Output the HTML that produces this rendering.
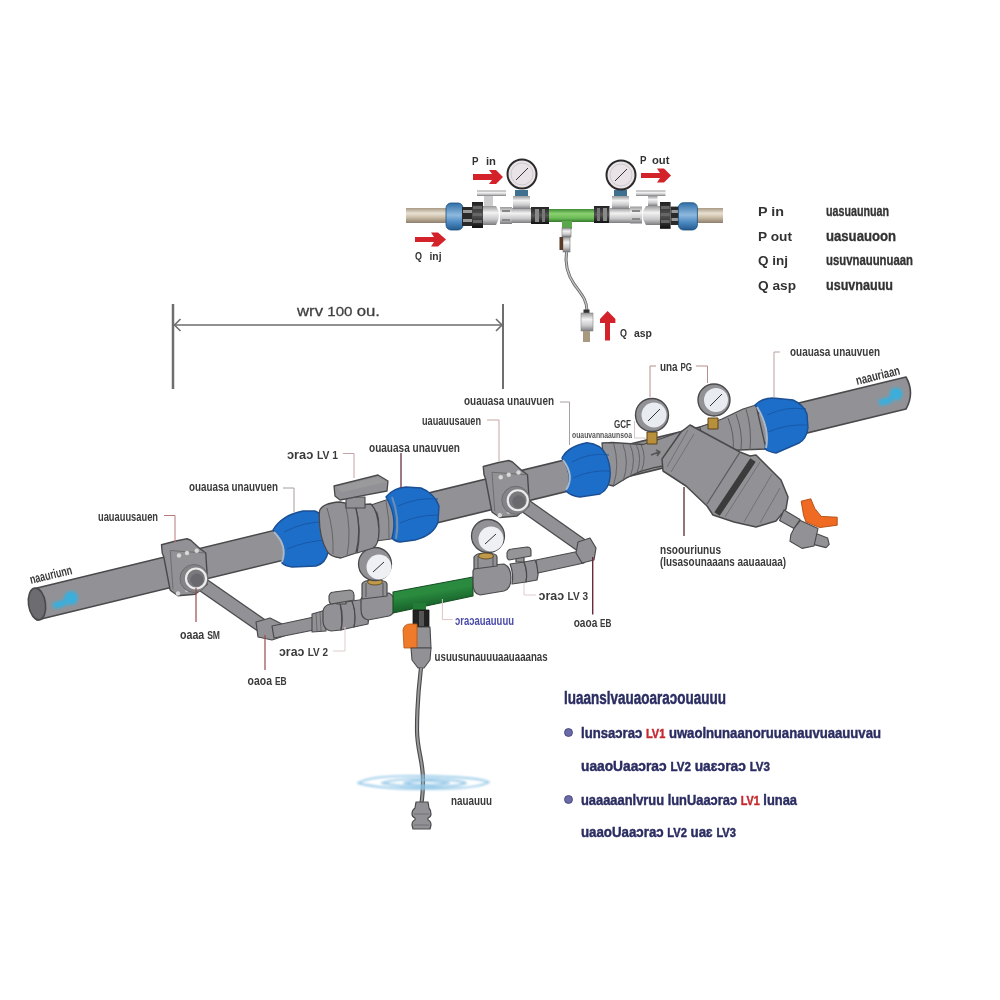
<!DOCTYPE html>
<html><head><meta charset="utf-8">
<style>
html,body{margin:0;padding:0;background:#fff;width:1000px;height:1000px;overflow:hidden}
svg{display:block}
text{font-family:"Liberation Sans",sans-serif}
</style></head>
<body>
<svg width="1000" height="1000" viewBox="0 0 1000 1000">
<defs>
  <linearGradient id="beige" x1="0" y1="0" x2="0" y2="1">
    <stop offset="0" stop-color="#a89a85"/><stop offset="0.35" stop-color="#e8e0d2"/><stop offset="0.6" stop-color="#cfc2ac"/><stop offset="1" stop-color="#8d7f6b"/>
  </linearGradient>
  <linearGradient id="silver" x1="0" y1="0" x2="0" y2="1">
    <stop offset="0" stop-color="#9a9a9c"/><stop offset="0.35" stop-color="#f2f2f2"/><stop offset="0.7" stop-color="#c8c8ca"/><stop offset="1" stop-color="#7c7c80"/>
  </linearGradient>
  <linearGradient id="blueC" x1="0" y1="0" x2="0" y2="1">
    <stop offset="0" stop-color="#2f6fa8"/><stop offset="0.45" stop-color="#8fb9de"/><stop offset="0.7" stop-color="#4f8cc4"/><stop offset="1" stop-color="#235b8e"/>
  </linearGradient>
  <linearGradient id="greenT" x1="0" y1="0" x2="0" y2="1">
    <stop offset="0" stop-color="#3f8a35"/><stop offset="0.35" stop-color="#8ad070"/><stop offset="0.7" stop-color="#6cbc58"/><stop offset="1" stop-color="#357a2c"/>
  </linearGradient>
  <linearGradient id="blackN" x1="0" y1="0" x2="0" y2="1">
    <stop offset="0" stop-color="#222"/><stop offset="0.5" stop-color="#555"/><stop offset="1" stop-color="#111"/>
  </linearGradient>
  <filter id="blur1" x="-30%" y="-30%" width="160%" height="160%"><feGaussianBlur stdDeviation="1.6"/></filter>
  <filter id="blur07" x="-10%" y="-50%" width="120%" height="200%"><feGaussianBlur stdDeviation="0.8"/></filter>
  <linearGradient id="greenB" gradientUnits="userSpaceOnUse" x1="433" y1="582" x2="437" y2="606">
    <stop offset="0" stop-color="#2c8c40"/><stop offset="0.4" stop-color="#2a8a3e"/><stop offset="1" stop-color="#17602a"/>
  </linearGradient>
  <filter id="soft" x="0" y="0" width="1000" height="1000" filterUnits="userSpaceOnUse"><feGaussianBlur stdDeviation="0.5"/></filter>
</defs>
<rect width="1000" height="1000" fill="#fff"/>
<g filter="url(#soft)">

<!-- ============ TOP ASSEMBLY ============ -->
<g id="top">
  <!-- left beige pipe -->
  <rect x="406" y="208" width="42" height="15" fill="url(#beige)"/>
  <!-- right beige pipe -->
  <rect x="695" y="208" width="28" height="15" fill="url(#beige)"/>
  <!-- left blue coupling -->
  <rect x="446" y="203" width="17" height="27" rx="5" fill="url(#blueC)" stroke="#1d4f7e" stroke-width="0.8"/>
  <rect x="462" y="207" width="11" height="19" fill="#2a2a2a"/>
  <rect x="463" y="210" width="9" height="3" fill="#999"/><rect x="463" y="219" width="9" height="3" fill="#999"/>
  <!-- left black nut -->
  <rect x="472" y="202" width="11" height="26" fill="url(#blackN)"/>
  <rect x="473" y="206" width="9" height="3" fill="#666"/><rect x="473" y="213" width="9" height="3" fill="#666"/><rect x="473" y="220" width="9" height="3" fill="#666"/>
  <!-- valve ball body -->
  <path d="M483,206 L496,206 Q502,215 496,225 L483,225 Z" fill="url(#silver)"/>
  <rect x="500" y="207" width="12" height="17" fill="url(#silver)"/>
  <rect x="502" y="210" width="8" height="2" fill="#888"/><rect x="502" y="219" width="8" height="2" fill="#888"/>
  <!-- valve handle -->
  <rect x="484" y="196" width="9" height="10" fill="#ccc"/>
  <rect x="477" y="190.5" width="29" height="5.5" fill="url(#silver)"/>
  <!-- left silver tee -->
  <rect x="512" y="208" width="19" height="15" fill="url(#silver)"/>
  <rect x="513" y="196" width="17" height="13" fill="url(#silver)"/>
  <rect x="515" y="190" width="13" height="6" fill="#3f6f8f"/>
  <!-- left gauge -->
  <circle cx="522" cy="174" r="14.5" fill="#e9e2e6" stroke="#2b2b2b" stroke-width="2"/>
  <circle cx="522" cy="174" r="11" fill="none" stroke="#bbb" stroke-width="0.6"/>
  <line x1="516" y1="180" x2="528" y2="168" stroke="#333" stroke-width="1"/>
  <!-- black collar left of green -->
  <rect x="531" y="207" width="18" height="17" fill="url(#blackN)"/>
  <rect x="535" y="209" width="4" height="13" fill="#8a8a8a"/><rect x="542" y="209" width="3" height="13" fill="#777"/>
  <!-- green tee -->
  <rect x="549" y="209" width="46" height="13" fill="url(#greenT)"/>
  <rect x="562" y="221" width="10" height="8" fill="#5aa84a"/>
  <!-- right collar -->
  <rect x="594" y="206" width="15.5" height="17" fill="url(#blackN)"/>
  <rect x="597" y="208" width="3" height="13" fill="#777"/><rect x="603" y="208" width="4" height="13" fill="#8a8a8a"/>
  <!-- right silver tee -->
  <rect x="610" y="208" width="20" height="15" fill="url(#silver)"/>
  <rect x="612" y="196" width="17" height="13" fill="url(#silver)"/>
  <rect x="614" y="190" width="13" height="6" fill="#3f6f8f"/>
  <circle cx="621" cy="175" r="14.5" fill="#e9e2e6" stroke="#2b2b2b" stroke-width="2"/>
  <circle cx="621" cy="175" r="11" fill="none" stroke="#bbb" stroke-width="0.6"/>
  <line x1="615" y1="181" x2="627" y2="169" stroke="#333" stroke-width="1"/>
  <!-- right valve -->
  <rect x="630" y="206.5" width="12" height="17" fill="url(#silver)"/>
  <rect x="632" y="210" width="8" height="2" fill="#888"/><rect x="632" y="218" width="8" height="2" fill="#888"/>
  <path d="M661,206 L646,206 Q639,215 646,225 L661,225 Z" fill="url(#silver)"/>
  <rect x="648" y="196" width="9.5" height="10" fill="url(#silver)"/>
  <rect x="636" y="190.5" width="29.5" height="5.5" fill="url(#silver)"/>
  <rect x="660" y="202" width="10.6" height="26.8" fill="url(#blackN)"/>
  <rect x="661" y="206" width="8.6" height="3" fill="#666"/><rect x="661" y="213" width="8.6" height="3" fill="#666"/><rect x="661" y="220" width="8.6" height="3" fill="#666"/>
  <rect x="670.6" y="206.6" width="9" height="18.4" fill="#2a2a2a"/>
  <rect x="671.5" y="210" width="7" height="3" fill="#999"/><rect x="671.5" y="218" width="7" height="3" fill="#999"/>
  <rect x="678.4" y="202.7" width="19" height="27.3" rx="5" fill="url(#blueC)" stroke="#1d4f7e" stroke-width="0.8"/>
  <!-- hose from tee -->
  <rect x="562" y="228" width="9" height="9" fill="url(#silver)" stroke="#777" stroke-width="0.6"/>
  <rect x="563" y="237" width="7" height="15" fill="url(#silver)" stroke="#777" stroke-width="0.6"/>
  <rect x="559.5" y="237" width="3.5" height="13" fill="#5a3a28"/>
  <path d="M566.5,252 C565,262 566,272 574,284 C582,295 587,300 587,311" fill="none" stroke="#666" stroke-width="3"/>
  <path d="M566.5,252 C565,262 566,272 574,284 C582,295 587,300 587,311" fill="none" stroke="#c4c4c4" stroke-width="1.3"/>
  <rect x="583.5" y="309.5" width="6" height="4" fill="#333"/>
  <rect x="581" y="313" width="12" height="18" fill="url(#silver)" stroke="#888" stroke-width="0.6"/>
  <rect x="583" y="331" width="7" height="11" fill="#a89a80"/>
  <!-- red arrows -->
  <g fill="#d3222a">
    <path d="M473,174 L492,174 L489,170 L496,170 L503,177 L496,184 L489,184 L492,180 L473,180 Z"/>
    <path d="M415,237 L434,237 L431,232.5 L438,232.5 L446,239.5 L438,246.5 L431,246.5 L434,242 L415,242 Z"/>
    <path d="M641,173 L660,173 L657,168.5 L664,168.5 L671,175.5 L664,182.5 L657,182.5 L660,178 L641,178 Z"/>
    <path d="M605,340.5 L605,323 L600,323 L600,319 L607.6,311 L615.4,319 L615.4,323 L610,323 L610,340.5 Z"/>
  </g>
  <g font-weight="bold" font-size="11.5" fill="#333">
    <text x="472" y="165" textLength="6.5" lengthAdjust="spacingAndGlyphs">P</text><text x="486" y="165" textLength="10" lengthAdjust="spacingAndGlyphs">in</text>
    <text x="640" y="164" textLength="6.5" lengthAdjust="spacingAndGlyphs">P</text><text x="652" y="164" textLength="17.5" lengthAdjust="spacingAndGlyphs">out</text>
    <text x="415" y="260" textLength="7" lengthAdjust="spacingAndGlyphs">Q</text><text x="429.5" y="260" textLength="12" lengthAdjust="spacingAndGlyphs">inj</text>
    <text x="620" y="337" textLength="7" lengthAdjust="spacingAndGlyphs">Q</text><text x="634" y="337" textLength="18" lengthAdjust="spacingAndGlyphs">asp</text>
  </g>
</g>


<!-- ============ MAIN PIPE ============ -->
<g id="main" stroke-linejoin="round">
  <!-- main pipe body -->
  <path d="M37,588 L906,377 Q915,393 906,409 L37,620 Z" fill="#929296" stroke="#4a4a4c" stroke-width="1.6"/>
  <ellipse cx="37" cy="604" rx="8.5" ry="16" transform="rotate(-8 37 604)" fill="#6d6d71" stroke="#4a4a4c" stroke-width="1.6"/>
  <!-- light blue arrows -->
  <g filter="url(#blur1)" fill="#3aaedc"><path d="M52,603 L66,599 L66,606 L54,609 Z"/><circle cx="71" cy="598" r="7"/></g>
  <g filter="url(#blur1)" fill="#3aaedc"><path d="M878,400 L892,396 L892,403 L880,406 Z"/><circle cx="896" cy="394" r="6.5"/></g>

</g>

<!-- ============ BYPASS ============ -->
<g id="bypass" stroke-linejoin="round">
  <!-- left diagonal pipe -->
  <path d="M196,580 L268,630" stroke="#4a4a4c" stroke-width="14.5" stroke-linecap="butt" fill="none"/>
  <path d="M196,580 L268,630" stroke="#929296" stroke-width="12" stroke-linecap="butt" fill="none"/>
  <!-- elbow left -->
  <path d="M256,622 L270,618 L282,624 L284,636 L272,640 L258,637 Z" fill="#929296" stroke="#4a4a4c" stroke-width="1.2"/>
  <!-- pipe elbow -> LV2 -->
  <path d="M272,626 L314,617 L314,630 L274,638 Z" fill="#929296" stroke="#4a4a4c" stroke-width="1.2"/>
  <path d="M312,614 L326,610 L326,631 L312,632 Z" fill="#929296" stroke="#4a4a4c" stroke-width="1.1"/>
  <path d="M316,613 L317,631 M320,612 L321,631" stroke="#5f5f60" stroke-width="0.8"/>
  <!-- LV2 valve -->
  <path d="M323,611 Q324,605 331,604 L340,603 Q343,617 341,630 L331,631 Q324,630 323,622 Z" fill="#929296" stroke="#4a4a4c" stroke-width="1.2"/>
  <path d="M340,603 L352,601 Q357,614 354,627 L341,630 Q344,617 340,603 Z" fill="#929296" stroke="#4a4a4c" stroke-width="1.2"/>
  <path d="M352,601 L366,599 Q370,611 368,624 L354,627 Q357,614 352,601 Z" fill="#929296" stroke="#4a4a4c" stroke-width="1.2"/>
  <rect x="337" y="597" width="9" height="7" fill="#929296" stroke="#4a4a4c" stroke-width="1.2"/>
  <path d="M329,596 Q330,592 334,592 L350,590 Q354,591 354,595 L354,600 L331,604 Q329,603 329,600 Z" fill="#959597" stroke="#4a4a4c" stroke-width="1.1"/>
  <!-- tee w/ gauge 1 -->
  <path d="M361,599 Q362,596 368,595 L389,593 Q395,596 395,605 Q395,614 389,616 L368,620 Q361,619 361,609 Z" fill="#929296" stroke="#4a4a4c" stroke-width="1.2"/>
  <path d="M362,584 Q363,580 375,580 Q387,580 387,584 L387,596 L362,599 Z" fill="#929296" stroke="#4a4a4c" stroke-width="1.2"/>
  <path d="M366,583 L366,597 M383,583 L383,596" stroke="#555" stroke-width="1"/>
  <ellipse cx="375" cy="582" rx="7.5" ry="3" fill="#c09a48" stroke="#5a4418" stroke-width="0.8"/>
  <circle cx="375" cy="564" r="16.5" fill="#929296" stroke="#4a4a4c" stroke-width="1.3"/>
  <circle cx="379" cy="567" r="12.5" fill="#eef0f4"/>
  <line x1="373" y1="572" x2="384" y2="562" stroke="#333" stroke-width="1"/>
  <!-- green tee -->
  <path d="M393,592 L473,577 L473,596 L393,613 Z" fill="url(#greenB)" stroke="#184f24" stroke-width="1.1"/>
  <rect x="413" y="603" width="13" height="8" fill="#217c36"/>
  <!-- tee w/ gauge 2 -->
  <path d="M473,571 Q474,567 480,566 L504,564 Q511,567 511,578 Q511,589 504,591 L480,595 Q473,594 473,583 Z" fill="#929296" stroke="#4a4a4c" stroke-width="1.2"/>
  <path d="M474,557 Q476,553 486,553 Q497,553 497,557 L497,566 L474,569 Z" fill="#929296" stroke="#4a4a4c" stroke-width="1.2"/>
  <path d="M478,556 L478,568 M493,555 L493,566" stroke="#555" stroke-width="1"/>
  <ellipse cx="486" cy="556" rx="7.5" ry="3" fill="#c09a48" stroke="#5a4418" stroke-width="0.8"/>
  <circle cx="488" cy="536" r="16.5" fill="#929296" stroke="#4a4a4c" stroke-width="1.3"/>
  <circle cx="491" cy="539" r="12.5" fill="#eef0f4"/>
  <line x1="485" y1="544" x2="496" y2="534" stroke="#333" stroke-width="1"/>
  <!-- LV3 valve -->
  <path d="M510,564 L524,562 Q528,572 526,582 L512,584 Q514,574 510,564 Z" fill="#929296" stroke="#4a4a4c" stroke-width="1.2"/>
  <path d="M524,562 L535,560 Q540,570 537,580 L526,582 Q528,572 524,562 Z" fill="#929296" stroke="#4a4a4c" stroke-width="1.2"/>
  <rect x="516" y="555" width="8" height="7" fill="#929296" stroke="#4a4a4c" stroke-width="1.2"/>
  <path d="M507,553 Q508,549 512,549 L527,547 Q531,547 531,551 L531,556 L509,560 Q507,559 507,557 Z" fill="#959597" stroke="#4a4a4c" stroke-width="1.1"/>
  <!-- pipe LV3 -> elbow -->
  <path d="M536,560 L580,551 L584,563 L538,573 Z" fill="#929296" stroke="#4a4a4c" stroke-width="1.2"/>
  <!-- right diagonal pipe -->
  <path d="M517,500 L588,550" stroke="#4a4a4c" stroke-width="14.5" fill="none"/>
  <path d="M517,500 L588,550" stroke="#929296" stroke-width="12" fill="none"/>
  <path d="M578,542 L590,538 L596,548 L594,560 L582,563 L576,553 Z" fill="#929296" stroke="#4a4a4c" stroke-width="1.2"/>
  <!-- injector -->
  <rect x="413" y="610" width="16" height="17" fill="#222" stroke="#111" stroke-width="0.8"/>
  <rect x="419" y="611" width="5" height="15" fill="#555"/>
  <path d="M416,627 L430,627 L431,648 L416,648 Z" fill="#929296" stroke="#4a4a4c" stroke-width="1.1"/>
  <path d="M403,630 Q404,624 410,624 L417,624 L417,648 L404,648 Z" fill="#ee7a2a" stroke="#b85410" stroke-width="0.8"/>
  <path d="M411,648 L431,648 L430,660 L424,668 L418,668 L412,660 Z" fill="#929296" stroke="#4a4a4c" stroke-width="1.1"/>
  <!-- hose -->
  <path d="M421,668 C419,685 417,700 417,730 C417,750 423,760 423,780 C423,795 422,800 421,806" fill="none" stroke="#4a4a4c" stroke-width="4.2"/>
  <path d="M421,668 C419,685 417,700 417,730 C417,750 423,760 423,780 C423,795 422,800 421,806" fill="none" stroke="#9a9a9c" stroke-width="2"/>
  <!-- ripples -->
  <g fill="none" stroke="#8cc4e6" stroke-width="1.9" filter="url(#blur07)" opacity="0.85">
    <path d="M358,783 Q372,775 422,776 Q478,777 489,782 Q478,789 425,789 Q380,789 358,783 Z"/>
    <path d="M382,783 Q398,778 430,779 Q460,780 466,783 Q455,787 430,787 Q400,787 382,783 Z"/>
    <path d="M404,783 Q415,780 432,781 Q446,782 449,783 Q440,785 430,785 Q412,785 404,783 Z"/>
  </g>
  <!-- foot valve -->
  <path d="M416,802 L428,802 L429,808 Q431,810 431,814 Q431,817 428,818 L428,820 Q431,821 431,825 L430,829 L413,829 L412,825 Q412,821 415,820 L415,818 Q412,817 412,814 Q412,810 415,808 Z" fill="#929296" stroke="#4a4a4c" stroke-width="1.2"/>
  <path d="M414,814 L429,814 M414,825 L429,825" stroke="#6a6a6c" stroke-width="0.8"/>
</g>

<g id="main2" stroke-linejoin="round">
  <!-- clamp 1 -->
  <g transform="translate(196,578.5)">
    <path d="M-34.5,-33.75 L-20.25,-37.5 L-9,-39.75 L-5.25,-38.25 L3.75,-30 L9.75,-25.5 L11.25,-2.25 L11,6 L-0.75,15.75 L-18,17.25 L-25.5,12 L-26,11 L-32.25,-21.75 L-33.75,-25.5 Z" fill="#929296" stroke="#4a4a4c" stroke-width="1.4"/>
    <path d="M-25.75,-28 L9,-25.5 M-25.75,-28 L-23,11" stroke="#6a6a6c" stroke-width="0.9" fill="none"/>
    <circle cx="-17" cy="-23" r="2.2" fill="#d8d8d8"/><circle cx="-9" cy="-25.5" r="2.2" fill="#d8d8d8"/><circle cx="0.75" cy="-27.75" r="2.2" fill="#d8d8d8"/>
    <circle cx="-18" cy="15" r="2.2" fill="#d8d8d8"/><circle cx="-9" cy="12" r="1.8" fill="#c8c8c8"/>
    <circle cx="-2" cy="0" r="14" fill="#848488" stroke="#6a6a6c" stroke-width="0.9"/>
    <circle cx="0" cy="0" r="10" fill="#7a7a7e" stroke="#ececec" stroke-width="2.2"/>
    <circle cx="1" cy="1.5" r="6.5" fill="#6a6a6e"/>
  </g>
  <!-- coupling 1 -->
  <path d="M273,530 Q282,515 303,511 L315,511 Q326,515 328,528 L328,552 Q326,563 316,566 L292,567 Q285,566 282,563 Q289,546 273,530 Z" fill="#1f6ec8" stroke="#1a4f94" stroke-width="1.4"/>
  <path d="M274,532 Q288,546 282,562" stroke="#a9b9c9" stroke-width="2" fill="none"/>
  <path d="M284,532 Q305,521 326,522 M287,549 Q306,541 327,540" stroke="#1858a8" stroke-width="1" fill="none"/>

  <!-- valve LV1 body -->
  <path d="M371,505 L386,500 L401,498 L404,535 L391,539 L376,541 Q381,525 377,513 Z" fill="#929296" stroke="#4a4a4c" stroke-width="1.2"/>
  <path d="M386,501 Q390,520 389,539 M393,499 Q397,520 396,538" stroke="#606062" stroke-width="0.9" fill="none"/>
  <path d="M355,505 L371,504 Q378,511 379,530 Q379,545 373,548 L357,553 Q362,530 355,505 Z" fill="#929296" stroke="#4a4a4c" stroke-width="1.3"/>
  <path d="M319.5,511 Q322,503 340,502 L355,505 Q362,530 356,553 L341,558 Q330,557 327,551 Q318,535 319.5,511 Z" fill="#929296" stroke="#4a4a4c" stroke-width="1.3"/>
  <path d="M327,508 Q334,530 333,554 M345,503 Q352,530 347,556" stroke="#606062" stroke-width="0.9" fill="none"/>
  <!-- handle -->
  <rect x="346" y="497" width="19" height="11" fill="#929296" stroke="#4a4a4c" stroke-width="1.1"/>
  <path d="M334,486 L378,475 L388,481 L387,491 L340,500 L335,496 Z" fill="#929296" stroke="#4a4a4c" stroke-width="1.3"/>
  <path d="M336,487 L378,477 L386,482 L342,492 Z" fill="#9a9a9c"/>

  <!-- coupling 2 -->
  <path d="M386,497 Q393,488 406,487 L421,488 Q434,493 439,506 L438,522 Q434,535 415,540 L400,542 Q394,541 392,538 Q398,517 386,497 Z" fill="#1f6ec8" stroke="#1a4f94" stroke-width="1.4"/>
  <path d="M392,497 Q400,518 396,539" stroke="#6e8fb0" stroke-width="2" fill="none"/>
  <path d="M398,506 Q418,497 438,499 M400,523 Q418,515 438,515" stroke="#1858a8" stroke-width="1" fill="none"/>

  <!-- clamp 2 -->
  <g transform="translate(517.75,500.25)">
    <path d="M-34.5,-33.75 L-20.25,-37.5 L-9,-39.75 L-5.25,-38.25 L3.75,-30 L9.75,-25.5 L11.25,-2.25 L11,6 L-0.75,15.75 L-18,17.25 L-25.5,12 L-26,11 L-32.25,-21.75 L-33.75,-25.5 Z" fill="#929296" stroke="#4a4a4c" stroke-width="1.4"/>
    <path d="M-25.75,-28 L9,-25.5 M-25.75,-28 L-23,11" stroke="#6a6a6c" stroke-width="0.9" fill="none"/>
    <circle cx="-17" cy="-23" r="2.2" fill="#d8d8d8"/><circle cx="-9" cy="-25.5" r="2.2" fill="#d8d8d8"/><circle cx="0.75" cy="-27.75" r="2.2" fill="#d8d8d8"/>
    <circle cx="-18" cy="15" r="2.2" fill="#d8d8d8"/><circle cx="-9" cy="12" r="1.8" fill="#c8c8c8"/>
    <circle cx="-2" cy="0" r="14" fill="#848488" stroke="#6a6a6c" stroke-width="0.9"/>
    <circle cx="0" cy="0" r="10" fill="#7a7a7e" stroke="#ececec" stroke-width="2.2"/>
    <circle cx="1" cy="1.5" r="6.5" fill="#6a6a6e"/>
  </g>
  <!-- adapter 3 -->
  <path d="M602,443 L612,442.5 L627,443.5 L643,444.5 L663,438 L681,431.5 L692,426 L694,462 L663,466 L654,467.7 L640.5,471.3 L627,477.6 L613.5,486 L605,484 Z" fill="#929296" stroke="#4a4a4c" stroke-width="1.3"/>
  <path d="M613.5,443 Q620,465 613.5,485 M622.5,443 Q630,462 623,481 M629.7,443.5 Q637,460 630,477 M636,444 Q643,458 636.5,474 M641,444.5 Q647,457 641.5,471" stroke="#5f5f60" stroke-width="0.9" fill="none"/>
  <path d="M660,447 L660,430 M655,444 L665,447" stroke="none"/>
  <!-- coupling 3 -->
  <path d="M562,458 Q568,446 587,442.7 Q601,444 606,454.6 Q611,465 610,477 Q609,489 600,494 L580,497 Q571,496 566,491 Q574,476 562,458 Z" fill="#1f6ec8" stroke="#1a4f94" stroke-width="1.4"/>
  <path d="M563,460 Q575,476 566,490" stroke="#a9b9c9" stroke-width="2" fill="none"/>
  <path d="M572,462 Q590,452 609,455 M573,478 Q590,470 610,471" stroke="#1858a8" stroke-width="1" fill="none"/>
  <!-- filter outlet adapter + coupling 4 -->
  <path d="M700,427 L722,419 L743,409 L756,405 L766,449 L739,450 L705,455 Z" fill="#929296" stroke="#4a4a4c" stroke-width="1.3"/>
  <path d="M728,418 Q735,435 733,452 M736,414 Q743,432 741,450 M746,409 Q752,428 750,450" stroke="#5f5f60" stroke-width="1" fill="none"/>
  <path d="M755,405 Q762,398 773,398 L793,400 Q804,405 807,414 L808,428 Q806,440 799,443 L776,453 Q769,452 765,449 Q772,427 755,405 Z" fill="#1f6ec8" stroke="#1a4f94" stroke-width="1.4"/>
  <path d="M757,407 Q770,428 766,448" stroke="#a9b9c9" stroke-width="2" fill="none"/>
  <path d="M767,415 Q786,406 806,409 M768,432 Q786,424 807,425" stroke="#1858a8" stroke-width="1" fill="none"/>

  <!-- filter housing -->
  <path d="M690,425 L740,452 L750,456 L756,455 L781,480 L788,497 L786,509 L776,521 L756,527 L734,522 L713,515 L707,506 L686,486 L663,471 L662,459 L681,432 Z" fill="#929296" stroke="#4a4a4c" stroke-width="1.5"/>
  <path d="M740,452 L707,504" stroke="#5a5a5c" stroke-width="1.2" fill="none"/>
  <path d="M688,430 L667,467 M694,434 L671,472" stroke="#6e6e70" stroke-width="0.9" fill="none"/>
  <path d="M753,460 L717,514" stroke="#3b3b3b" stroke-width="6.5" fill="none"/>
  <path d="M760,462 L725,517 M772,474 L744,522 M780,488 L760,523" stroke="#6e6e70" stroke-width="0.9" fill="none"/>
  <!-- drain valve -->
  <path d="M784,510 L800,519.5 L794,528.5 L779.5,520.5 Z" fill="#929296" stroke="#4a4a4c" stroke-width="1.1"/>
  <path d="M814.8,533 L827.6,538 L829.2,544.4 L826,547.6 L813.2,544.4 Z" fill="#929296" stroke="#4a4a4c" stroke-width="1.1"/>
  <path d="M800.4,520.4 L818,528.4 L814,546 L802,548.4 L790,541.2 L790.8,534.8 L794,528.4 Z" fill="#929296" stroke="#4a4a4c" stroke-width="1.1"/>
  <path d="M801.2,501.2 L810.8,498.8 L814.8,508.4 L821.2,516.4 L837.2,517.2 L837.2,525.2 L819.6,527.6 L806,522 L803.6,515.6 Z" fill="#ef6a22" stroke="#b04a10" stroke-width="0.9" stroke-linejoin="round"/>
  <!-- gauges on filter -->
  <rect x="647" y="432" width="10" height="12" fill="#b8903a" stroke="#5a4418" stroke-width="1"/>
  <circle cx="652" cy="415" r="16.5" fill="#929296" stroke="#4a4a4c" stroke-width="1.4"/>
  <circle cx="654" cy="415" r="12.5" fill="#e8ecf0"/>
  <line x1="648" y1="421" x2="660" y2="409" stroke="#333" stroke-width="1"/>
  <rect x="708" y="418" width="10" height="11" fill="#b8903a" stroke="#5a4418" stroke-width="1"/>
  <circle cx="714" cy="400" r="16" fill="#929296" stroke="#4a4a4c" stroke-width="1.4"/>
  <circle cx="716" cy="400" r="12" fill="#e8ecf0"/>
  <line x1="710" y1="406" x2="722" y2="394" stroke="#333" stroke-width="1"/>
  <path d="M651,455 L659,452 M656,450 L660,452 L657,456" stroke="#555" stroke-width="1.5" fill="none"/>
</g>


<!-- ============ LABELS ============ -->
<g id="labels" fill="none" stroke="#c4a4a4" stroke-width="1">
  <path d="M164,515.5 L175,515.5 L175,543" stroke="#b87878"/>
  <path d="M283,488 L294,488 L294,512" stroke="#a89c9c"/>
  <path d="M343,453.5 L354,453.5 L354,478"/>
  <path d="M401,453 L401,488" stroke="#6a3444" stroke-width="1.3"/>
  <path d="M487,420 L499,420 L499,462"/>
  <path d="M560,402 L569.5,402 L569.5,445" stroke="#aaa0a0"/>
  <path d="M656,366 L650,366 L650,397" stroke="#b88c8c"/>
  <path d="M696,366 L707.5,366 L707.5,383" stroke="#b88c8c"/>
  <path d="M780,352 L774,352 L774,398" stroke="#b8a0a0"/>
  <path d="M634.5,421 L634.5,438 L646,438" stroke="#d8c4c4"/>
  <path d="M684,487 L684,536" stroke="#6b3a3a" stroke-width="1.4"/>
  <path d="M196,588 L196,622" stroke="#9a4a4a" stroke-width="1.2"/>
  <path d="M333,651 L345,651 L345,627" stroke="#e0cccc"/>
  <path d="M265,635 L265,670" stroke="#9a4a4a" stroke-width="1.2"/>
  <path d="M452.8,619.6 L442.4,619.6 L442.4,599" stroke="#e0c4c4"/>
  <path d="M536,595 L524,595 L524,583" stroke="#e0cccc"/>
  <path d="M592.7,557 L592.7,614.4" stroke="#6b2a3a" stroke-width="1.4"/>
</g>
<g id="ltext" fill="#3a3a3a" font-size="13" font-weight="bold">
  <text x="98" y="520.5" textLength="60" lengthAdjust="spacingAndGlyphs">uauauusauen</text>
  <text x="189" y="491" textLength="89" lengthAdjust="spacingAndGlyphs">ouauasa  unauvuen</text>
  <text x="287" y="458.5" textLength="51" lengthAdjust="spacingAndGlyphs"><tspan font-size="13">ɔraɔ</tspan> <tspan font-size="10.5">LV 1</tspan></text>
  <text x="369" y="451.5" textLength="91" lengthAdjust="spacingAndGlyphs">ouauasa  unauvuen</text>
  <text x="422" y="425" textLength="59" lengthAdjust="spacingAndGlyphs">uauauusauen</text>
  <text x="464" y="405" textLength="90" lengthAdjust="spacingAndGlyphs">ouauasa  unauvuen</text>
  <text x="660" y="370.5" textLength="32" lengthAdjust="spacingAndGlyphs"><tspan font-size="13">una</tspan> <tspan font-size="10.5">PG</tspan></text>
  <text x="790" y="356" textLength="90" lengthAdjust="spacingAndGlyphs">ouauasa  unauvuen</text>
  <text x="614" y="427.5" font-size="11.5" textLength="17" lengthAdjust="spacingAndGlyphs">GCF</text>
  <text x="572" y="438" font-size="8.5" font-weight="bold" fill="#555" textLength="60" lengthAdjust="spacingAndGlyphs">ouauvannaaunsoa</text>
  <text x="660" y="553.5" textLength="61" lengthAdjust="spacingAndGlyphs">nsoouriunus</text>
  <text x="660" y="566" textLength="126" lengthAdjust="spacingAndGlyphs">(lusasounaaans  aauaauaa)</text>
  <text x="180" y="638.5" textLength="40" lengthAdjust="spacingAndGlyphs"><tspan font-size="13">oaaa</tspan> <tspan font-size="10.5">SM</tspan></text>
  <text x="279" y="656" textLength="49" lengthAdjust="spacingAndGlyphs"><tspan font-size="13">ɔraɔ</tspan> <tspan font-size="10.5">LV 2</tspan></text>
  <text x="247.6" y="684.6" textLength="39" lengthAdjust="spacingAndGlyphs"><tspan font-size="13">oaoa</tspan> <tspan font-size="10.5">EB</tspan></text>
  <text x="455" y="624.8" fill="#4a4aa8" textLength="59" lengthAdjust="spacingAndGlyphs">ɔraɔauauuuu</text>
  <text x="538.6" y="600" textLength="49.4" lengthAdjust="spacingAndGlyphs"><tspan font-size="13">ɔraɔ</tspan> <tspan font-size="10.5">LV 3</tspan></text>
  <text x="573.7" y="627" textLength="37.7" lengthAdjust="spacingAndGlyphs"><tspan font-size="13">oaoa</tspan> <tspan font-size="10.5">EB</tspan></text>
  <text x="434.6" y="660.5" textLength="113" lengthAdjust="spacingAndGlyphs">usuusunauuuaauaaanas</text>
  <text x="451" y="804.5" textLength="41" lengthAdjust="spacingAndGlyphs">nauauuu</text>
  <text transform="translate(31,584) rotate(-13.66)" x="0" y="0" textLength="43" lengthAdjust="spacingAndGlyphs">naauriunn</text>
  <text transform="translate(857,385) rotate(-13.66)" x="0" y="0" textLength="45" lengthAdjust="spacingAndGlyphs">naauriaan</text>
</g>

<!-- ============ INSTRUCTIONS ============ -->
<g id="instr" fill="#2b2d62" stroke="#2b2d62" stroke-width="0.45" font-weight="bold">
  <text x="564" y="704" font-size="18" textLength="162" lengthAdjust="spacingAndGlyphs">luaanslvauaoaraɔouauuu</text>
  <circle cx="568.5" cy="732.5" r="4" fill="#6a6aa6" stroke="#3a3a7a" stroke-width="0.8"/>
  <circle cx="568.5" cy="799.5" r="4" fill="#6a6aa6" stroke="#3a3a7a" stroke-width="0.8"/>
  <text x="581" y="738" font-size="15.5" textLength="300" lengthAdjust="spacingAndGlyphs">lunsaɔraɔ <tspan fill="#c42a30" stroke="#c42a30" font-size="13">LV1</tspan> uwaolnunaanoruuanauvuaauuvau</text>
  <text x="581" y="770.5" font-size="15.5" textLength="189" lengthAdjust="spacingAndGlyphs">uaaoUaaɔraɔ <tspan font-size="13">LV2</tspan> uaɛɔraɔ <tspan font-size="13">LV3</tspan></text>
  <text x="581" y="804.5" font-size="15.5" textLength="216" lengthAdjust="spacingAndGlyphs">uaaaaanlvruu lunUaaɔraɔ <tspan fill="#c42a30" stroke="#c42a30" font-size="13">LV1</tspan> lunaa</text>
  <text x="581" y="837" font-size="15.5" textLength="155" lengthAdjust="spacingAndGlyphs">uaaoUaaɔraɔ <tspan font-size="13">LV2</tspan> uaɛ <tspan font-size="13">LV3</tspan></text>
</g>

<!-- ============ LEGEND ============ -->
<g font-weight="bold" font-size="13.5" fill="#333">
  <text x="758" y="216" textLength="26" lengthAdjust="spacingAndGlyphs">P in</text>
  <text x="758" y="241" textLength="34" lengthAdjust="spacingAndGlyphs">P out</text>
  <text x="758" y="265" textLength="30" lengthAdjust="spacingAndGlyphs">Q inj</text>
  <text x="758" y="290" textLength="38" lengthAdjust="spacingAndGlyphs">Q asp</text>
</g>
<g font-weight="bold" font-size="15.5" fill="#333" stroke="#333" stroke-width="0.35">
  <text x="826" y="216" textLength="63" lengthAdjust="spacingAndGlyphs">uasuaunuan</text>
  <text x="826" y="241" textLength="70" lengthAdjust="spacingAndGlyphs">uasuauoon</text>
  <text x="826" y="265" textLength="87" lengthAdjust="spacingAndGlyphs">usuvnauunuaan</text>
  <text x="826" y="290" textLength="67" lengthAdjust="spacingAndGlyphs">usuvnauuu</text>
</g>

<!-- ============ DIMENSION ============ -->
<g stroke="#6e6e6e" fill="none">
  <line x1="173" y1="304" x2="173" y2="389" stroke-width="2.5"/>
  <line x1="503" y1="304" x2="503" y2="389" stroke-width="2"/>
  <line x1="174" y1="325" x2="502" y2="325" stroke-width="1.6"/>
  <path d="M180.5,319 L174.5,325 L180.5,331" stroke-width="1.6"/>
  <path d="M496,319 L502,325 L496,331" stroke-width="1.6"/>
</g>
<text x="297" y="315.5" font-size="13.5" fill="#3a3a3a" stroke="#4a4a4c" stroke-width="0.3" textLength="83" lengthAdjust="spacingAndGlyphs"><tspan font-size="15">wrv</tspan> 100 <tspan font-size="15">ou.</tspan></text>

</g>
</svg>
</body></html>
